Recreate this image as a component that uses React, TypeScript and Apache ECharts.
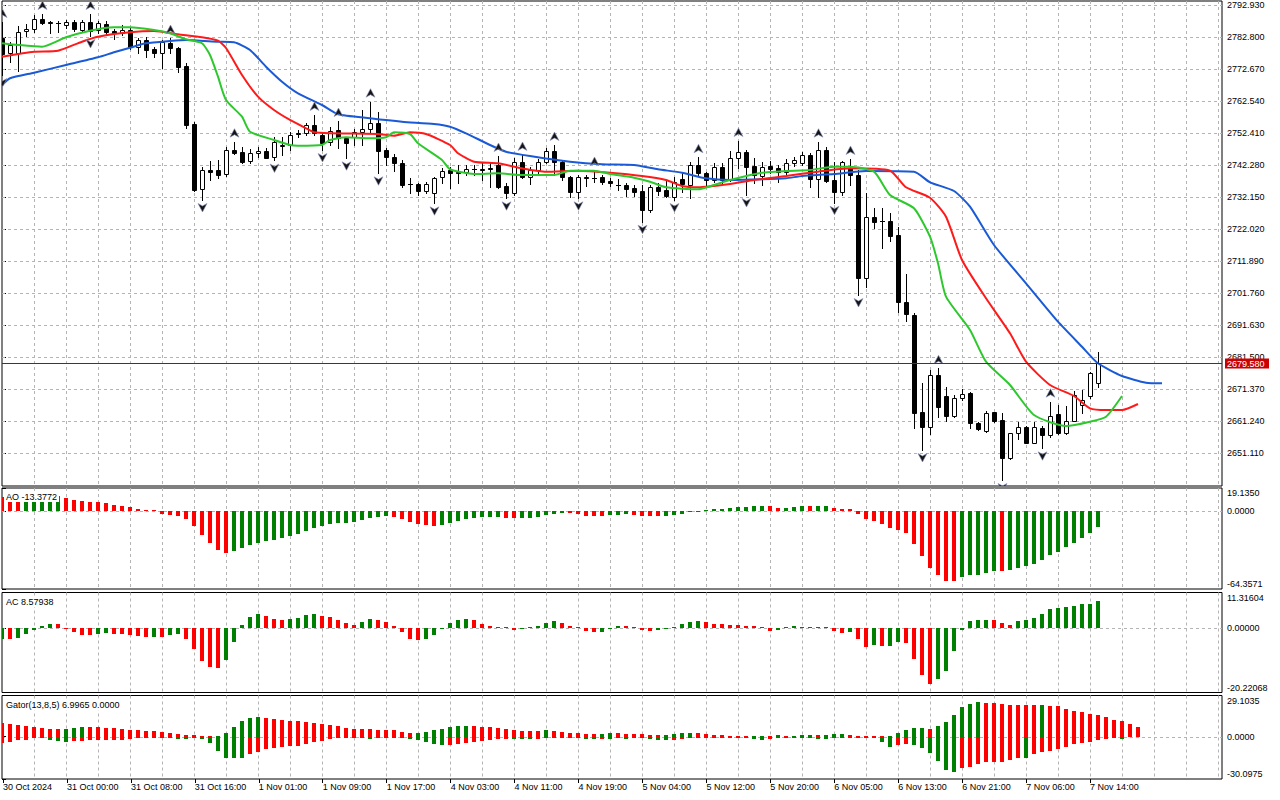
import React, { useEffect, useRef } from "react";
import * as echarts from "echarts";

// ---------- data ----------
const timeLabels = [
  "30 Oct 2024", "31 Oct 00:00", "31 Oct 08:00", "31 Oct 16:00", "1 Nov 01:00", "1 Nov 09:00",
  "1 Nov 17:00", "4 Nov 03:00", "4 Nov 11:00", "4 Nov 19:00", "5 Nov 04:00", "5 Nov 12:00",
  "5 Nov 20:00", "6 Nov 05:00", "6 Nov 13:00", "6 Nov 21:00", "7 Nov 06:00", "7 Nov 14:00",
];
const TIME_LABEL_STEP = 8; // one label every 8 hourly bars

const opens = [
  2782.35, 2777.60, 2777.60, 2784.66, 2785.19, 2788.36, 2787.60, 2787.28, 2786.46, 2787.60,
  2784.97, 2787.60, 2784.97, 2786.87, 2784.75, 2784.12, 2784.97, 2779.69, 2781.81, 2778.96,
  2777.79, 2780.96, 2779.18, 2773.68, 2755.24, 2734.59, 2740.70, 2740.70, 2739.43, 2747.02,
  2746.29, 2743.54, 2745.98, 2746.80, 2744.71, 2748.38, 2748.60, 2752.30, 2752.30, 2754.93,
  2751.76, 2749.65, 2753.35, 2750.72, 2751.04, 2752.81, 2753.57, 2755.47, 2747.02, 2744.90,
  2743.01, 2736.27, 2736.17, 2734.05, 2733.33, 2738.39, 2740.70, 2739.97, 2739.97, 2740.92,
  2741.01, 2741.23, 2742.28, 2735.64, 2733.33, 2743.32, 2738.58, 2740.70, 2743.32, 2746.80,
  2743.32, 2738.58, 2733.83, 2738.39, 2738.17, 2738.39, 2737.31, 2736.05, 2735.95, 2735.10,
  2734.15, 2728.05, 2735.23, 2734.37, 2732.25, 2737.75, 2735.95, 2742.28, 2739.65, 2737.53,
  2741.55, 2737.75, 2744.40, 2746.29, 2741.96, 2738.80, 2741.96, 2741.23, 2740.16, 2742.81,
  2743.01, 2745.44, 2737.75, 2747.02, 2737.53, 2733.83, 2741.23, 2739.11, 2706.63, 2725.74,
  2724.57, 2724.57, 2720.14, 2698.85, 2694.84, 2664.26, 2659.51, 2675.86, 2669.22, 2662.90,
  2668.49, 2670.07, 2660.59, 2658.15, 2664.07, 2661.63, 2649.52, 2657.42, 2659.32, 2654.45,
  2659.01, 2656.89, 2663.43, 2657.42, 2661.41, 2666.37, 2669.22, 2673.43,
];
const highs = [
  2787.50, 2781.27, 2786.24, 2786.87, 2789.72, 2790.03, 2787.91, 2787.91, 2788.13, 2788.13,
  2788.13, 2790.03, 2787.91, 2787.91, 2785.19, 2786.46, 2785.51, 2782.35, 2782.66, 2779.69,
  2781.81, 2782.44, 2779.69, 2774.44, 2755.88, 2741.74, 2743.64, 2743.86, 2748.07, 2749.65,
  2748.07, 2747.24, 2748.07, 2747.56, 2751.23, 2751.13, 2752.71, 2753.35, 2755.65, 2758.09,
  2752.49, 2754.39, 2756.19, 2751.23, 2753.57, 2759.67, 2762.30, 2759.13, 2747.56, 2745.76,
  2743.86, 2738.07, 2736.68, 2737.00, 2738.58, 2741.23, 2741.55, 2742.28, 2742.28, 2742.28,
  2742.81, 2742.81, 2745.12, 2736.49, 2744.49, 2745.44, 2741.55, 2744.08, 2747.65, 2748.60,
  2743.86, 2738.80, 2739.11, 2739.11, 2740.70, 2739.11, 2738.17, 2737.75, 2736.49, 2735.95,
  2735.95, 2735.95, 2736.68, 2737.53, 2738.58, 2740.16, 2743.32, 2744.71, 2740.16, 2743.01,
  2742.81, 2746.80, 2749.87, 2747.02, 2744.40, 2743.32, 2743.64, 2742.28, 2744.08, 2744.71,
  2746.48, 2745.98, 2749.65, 2748.07, 2743.32, 2743.54, 2744.18, 2740.70, 2733.52, 2728.58,
  2728.58, 2727.00, 2722.57, 2707.81, 2695.47, 2673.43, 2677.44, 2677.98, 2672.16, 2669.54,
  2671.34, 2670.58, 2661.09, 2664.57, 2664.26, 2663.75, 2657.61, 2661.09, 2659.73, 2661.09,
  2659.73, 2667.42, 2666.37, 2666.06, 2670.90, 2671.12, 2676.91, 2683.23,
];
const lows = [
  2770.74, 2774.95, 2772.01, 2783.07, 2784.43, 2786.87, 2783.93, 2784.43, 2785.51, 2784.75,
  2784.43, 2783.07, 2784.12, 2783.52, 2782.03, 2783.39, 2778.96, 2777.79, 2776.53, 2776.53,
  2772.86, 2777.60, 2771.78, 2753.88, 2734.05, 2731.21, 2737.53, 2738.07, 2738.80, 2745.76,
  2742.81, 2742.81, 2744.90, 2744.40, 2743.70, 2745.44, 2747.02, 2751.13, 2751.76, 2751.76,
  2747.02, 2748.60, 2747.56, 2744.40, 2748.60, 2748.60, 2752.81, 2739.65, 2742.28, 2740.48,
  2735.32, 2733.33, 2732.79, 2733.33, 2730.16, 2736.68, 2734.91, 2736.49, 2739.11, 2739.11,
  2737.53, 2735.41, 2735.00, 2731.75, 2732.79, 2738.17, 2736.27, 2739.65, 2742.91, 2739.11,
  2737.53, 2732.25, 2731.75, 2735.64, 2737.00, 2736.17, 2735.64, 2734.37, 2732.47, 2732.47,
  2724.35, 2727.51, 2732.79, 2732.00, 2731.21, 2733.83, 2731.75, 2738.80, 2735.95, 2736.90,
  2736.58, 2737.22, 2741.23, 2732.79, 2736.49, 2735.95, 2739.65, 2737.00, 2739.43, 2741.96,
  2742.28, 2735.23, 2732.25, 2736.90, 2730.35, 2732.79, 2735.95, 2701.16, 2703.79, 2722.26,
  2715.93, 2718.34, 2695.88, 2693.04, 2659.01, 2652.14, 2657.20, 2662.68, 2661.41, 2662.68,
  2667.96, 2659.01, 2658.47, 2657.93, 2661.09, 2642.66, 2649.20, 2655.53, 2654.26, 2654.26,
  2652.68, 2656.16, 2657.20, 2657.20, 2661.31, 2663.84, 2668.49, 2672.16,
];
const closes = [
  2777.29, 2780.23, 2784.43, 2785.29, 2788.36, 2787.28, 2787.09, 2787.19, 2787.50, 2785.19,
  2787.60, 2784.75, 2787.09, 2784.24, 2784.12, 2784.97, 2779.50, 2781.81, 2778.65, 2777.79,
  2781.08, 2779.18, 2773.37, 2754.93, 2734.37, 2740.70, 2740.16, 2739.11, 2747.02, 2746.17,
  2743.32, 2746.17, 2746.80, 2744.59, 2749.65, 2748.70, 2751.76, 2752.08, 2754.93, 2752.30,
  2749.14, 2753.12, 2750.72, 2749.33, 2752.81, 2753.66, 2755.47, 2746.80, 2744.90, 2743.01,
  2735.95, 2736.11, 2734.05, 2736.27, 2738.07, 2740.48, 2739.65, 2739.84, 2741.01, 2741.01,
  2740.79, 2741.11, 2735.41, 2733.33, 2743.32, 2738.58, 2740.70, 2743.32, 2746.80, 2743.32,
  2738.58, 2733.83, 2738.39, 2738.26, 2738.07, 2737.00, 2736.49, 2735.86, 2734.59, 2733.83,
  2728.05, 2735.23, 2734.15, 2732.32, 2737.00, 2736.27, 2742.28, 2739.65, 2737.53, 2741.55,
  2737.53, 2744.40, 2746.29, 2741.74, 2739.11, 2741.74, 2741.01, 2740.16, 2742.81, 2743.86,
  2745.44, 2737.75, 2747.02, 2737.31, 2733.83, 2743.07, 2739.11, 2706.63, 2725.74, 2724.35,
  2724.47, 2719.82, 2699.05, 2695.06, 2663.75, 2659.51, 2675.86, 2665.84, 2662.90, 2668.49,
  2669.76, 2660.59, 2658.69, 2663.94, 2661.41, 2649.52, 2657.42, 2659.32, 2654.45, 2659.32,
  2656.89, 2662.99, 2657.42, 2661.41, 2669.54, 2667.96, 2676.59, 2679.58,
];

const fractalUpIdx = [0, 5, 11, 21, 29, 39, 42, 46, 62, 65, 69, 74, 87, 92, 102, 106, 117, 131];
const fractalDownIdx = [0, 11, 25, 34, 40, 43, 47, 54, 63, 72, 80, 84, 93, 104, 107, 115, 125, 130];

// Alligator lines: [bar index, price]
const jaw = [
  [0, 2767.58], [1, 2769.7], [4, 2771.47], [8, 2773.90], [12, 2776.34], [14, 2777.92], [16, 2779.37],
  [18, 2780.77], [21, 2781.49], [23, 2781.81], [27, 2781.27], [29, 2781.08], [31, 2778.65], [33, 2773.37],
  [35, 2768.62], [37, 2764.95], [40, 2761.25], [42, 2758.31], [46, 2757.05], [50, 2755.97], [54, 2755.24],
  [56, 2754.39], [58, 2752.30], [61, 2748.60], [63, 2746.48], [66, 2745.12], [71, 2743.32], [75, 2742.50],
  [79, 2742.28], [82, 2740.92], [85, 2739.84], [88, 2738.07], [91, 2737.53], [95, 2737.75], [98, 2738.07],
  [100, 2738.80], [104, 2739.43], [108, 2740.38], [114, 2740.16], [116, 2736.81], [119, 2734.05],
  [121, 2729.09], [124, 2716.98], [128, 2704.86], [132, 2692.72], [135, 2684.81], [137, 2679.56],
  [140, 2675.55], [143, 2673.43], [145, 2673.24],
];
const teeth = [
  [0, 2776.53], [4, 2778.11], [7, 2778.43], [10, 2781.27], [12, 2782.85], [16, 2784.24], [19, 2784.66],
  [22, 2783.61], [25, 2782.66], [27, 2781.59], [28, 2779.28], [30, 2770.74], [32, 2763.88], [34, 2759.67],
  [36, 2756.51], [38, 2753.88], [39, 2752.62], [41, 2752.30], [47, 2752.08], [49, 2751.54], [51, 2752.62],
  [53, 2752.08], [56, 2748.60], [57, 2745.98], [59, 2743.32], [62, 2742.81], [65, 2741.23], [68, 2740.16],
  [72, 2740.48], [76, 2739.84], [80, 2738.80], [83, 2737.53], [85, 2735.64], [87, 2735.23], [91, 2736.27],
  [94, 2737.53], [98, 2738.80], [102, 2740.16], [106, 2741.23], [111, 2740.48], [113, 2735.23],
  [116, 2731.94], [118, 2725.93], [120, 2712.23], [123, 2700.12], [126, 2689.05], [128, 2680.07],
  [131, 2672.70], [134, 2669.22], [136, 2665.33], [138, 2664.79], [140, 2664.79], [142, 2666.69],
];
const lips = [
  [0, 2780.77], [2, 2780.23], [5, 2779.69], [8, 2782.66], [11, 2784.75], [14, 2785.83], [16, 2785.83],
  [19, 2784.97], [21, 2783.93], [23, 2782.03], [25, 2780.77], [26, 2777.07], [27, 2770.20], [28, 2762.83],
  [30, 2757.55], [31, 2752.81], [34, 2750.18], [36, 2748.60], [37, 2748.38], [40, 2748.60], [41, 2750.18],
  [43, 2751.04], [46, 2750.72], [48, 2751.04], [49, 2752.62], [51, 2752.08], [52, 2749.14], [55, 2743.86],
  [56, 2740.92], [59, 2739.43], [62, 2739.65], [65, 2739.11], [69, 2739.11], [71, 2740.48], [74, 2740.48],
  [76, 2739.43], [79, 2738.26], [81, 2737.00], [83, 2735.23], [87, 2734.59], [89, 2735.95], [91, 2737.53],
  [95, 2739.84], [98, 2740.38], [101, 2740.70], [104, 2741.74], [106, 2741.74], [109, 2740.16],
  [111, 2732.79], [114, 2728.58], [116, 2719.60], [117, 2711.19], [118, 2700.63], [121, 2690.09],
  [123, 2680.07], [126, 2672.70], [129, 2663.21], [133, 2659.73], [136, 2661.09], [138, 2662.68],
  [140, 2669.22],
];

const priceTicks = [
  2651.11, 2661.24, 2671.37, 2681.50, 2691.63, 2701.76, 2711.89, 2722.02,
  2732.15, 2742.28, 2752.41, 2762.54, 2772.67, 2782.80, 2792.93,
];
const bidPrice = 2679.58;

// indicator values; element k belongs to bar (k - 1): the first one is the unseen bar before the window
const IND_START = -1;
const aoValues = [
  13.0,
  12.1, 10.5, 9.8, 10.3, 10.8, 11.3, 11.8, 12.3, 10.7, 9.6,
  8.0, 7.4, 7.3, 6.6, 5.2, 4.1, 3.3, 1.65, 0.55, 0.1,
  -2.2, -3.0, -4.1, -6.3, -12.4, -19.6, -26.2, -32.0, -34.4, -33.3,
  -30.6, -28.1, -26.2, -24.5, -23.7, -22.0, -20.4, -18.7, -16.3, -14.0,
  -12.4, -10.5, -9.7, -9.5, -8.8, -7.2, -5.8, -4.7, -3.9, -5.0,
  -6.6, -8.8, -10.5, -11.3, -12.1, -11.3, -9.6, -8.0, -6.3, -5.5,
  -5.0, -4.7, -4.6, -5.5, -5.6, -5.4, -5.3, -4.7, -3.0, -2.2,
  -1.4, -1.6, -2.6, -3.9, -4.0, -4.1, -3.3, -2.8, -2.2, -3.0,
  -3.9, -4.1, -4.2, -4.0, -3.4, -2.2, -1.1, -0.3, 0.8, 1.4,
  1.9, 2.5, 3.3, 3.4, 4.1, 4.2, 4.1, 2.5, 2.8, 3.3,
  4.1, 4.0, 4.15, 4.25, 2.5, 1.7, 1.6, -2.2, -6.6, -8.3,
  -10.7, -13.8, -15.7, -17.9, -27.3, -37.2, -47.1, -52.9, -57.9, -58.0,
  -54.5, -52.9, -52.8, -51.5, -49.6, -49.7, -48.8, -46.8, -45.5, -43.8,
  -40.2, -36.4, -33.9, -29.8, -26.2, -22.0, -17.9, -13.3772,
];
const acValues = [
  -3.5,
  -3.3, -3.4, -3.0, -1.7, -0.4, 0.8, 1.35, 1.25, -0.2, -1.1,
  -2.0, -2.05, -1.7, -1.4, -1.7, -1.75, -2.1, -2.4, -2.7, -2.6,
  -2.8, -2.0, -1.7, -3.4, -6.5, -10.2, -12.1, -12.4, -9.9, -4.2,
  1.1, 3.5, 4.5, 3.9, 2.9, 2.6, 2.95, 3.2, 4.3, 4.5,
  3.9, 3.5, 2.6, 1.6, 1.0, 1.95, 2.9, 2.6, 1.95, 0.7,
  -1.1, -3.4, -3.7, -3.4, -2.0, -0.1, 1.7, 2.6, 2.9, 2.6,
  1.3, 0.8, 0.4, 0.15, -0.45, -0.1, 0.05, 0.65, 1.6, 2.3,
  1.6, 0.65, 0.2, -0.9, -1.2, -1.1, -0.1, 0.7, 0.6, 0.3,
  -0.5, -0.8, -0.5, -0.1, 0.1, 1.3, 2.0, 2.3, 2.0, 1.3,
  1.25, 1.2, 1.15, 0.9, 0.6, 0.4, -0.9, -0.4, 0.05, 0.6,
  0.55, 0.5, 0.45, 0.35, -0.8, -1.3, -1.25, -3.5, -5.8, -5.2,
  -5.5, -5.45, -4.2, -4.5, -9.6, -14.7, -17.5, -16.1, -13.4, -7.1,
  -0.4, 2.3, 2.6, 2.65, 2.6, 1.65, 1.2, 2.3, 2.6, 3.2,
  4.6, 6.1, 6.4, 6.7, 7.0, 7.6, 7.65, 8.57938,
];
const gatorUpper = [
  10.0,
  9.4, 8.7, 8.0, 7.5, 6.6, 6.1, 5.4, 5.35, 5.6, 6.1,
  7.0, 6.95, 6.6, 6.1, 5.9, 5.2, 4.9, 4.7, 4.2, 3.8,
  3.05, 2.6, 1.9, 1.4, 0.9, 0.3, 0.1, 0.5, 2.3, 6.6,
  10.8, 13.2, 13.9, 13.15, 12.45, 11.7, 10.9, 10.85, 10.1, 9.4,
  8.7, 8.0, 7.3, 6.1, 5.2, 5.15, 5.1, 4.5, 4.45, 4.4,
  3.5, 2.3, 2.35, 3.05, 4.45, 5.2, 6.6, 7.3, 7.35, 7.25,
  6.6, 6.55, 5.9, 5.2, 4.5, 3.8, 3.75, 3.7, 4.45, 3.8,
  3.3, 2.8, 2.35, 2.1, 1.9, 2.1, 2.8, 2.4, 2.1, 1.9,
  1.6, 1.4, 1.2, 1.4, 2.1, 2.6, 2.8, 2.35, 1.9, 1.4,
  1.2, 0.7, 0.5, 0.3, 0.5, 0.7, 0.5, 0.75, 0.6, 0.7,
  0.95, 1.2, 1.0, 1.4, 1.9, 2.1, 0.9, 0.7, 0.5, 0.2,
  0.05, 0.6, 2.3, 4.5, 5.9, 5.95, 5.6, 7.5, 10.1, 15.0,
  20.9, 23.2, 24.2, 23.7, 23.5, 22.8, 22.55, 22.5, 22.3, 22.1,
  22.2, 21.85, 21.4, 19.7, 18.3, 17.6, 16.2, 15.0, 13.6, 12.0,
  10.8, 9.2, 6.9965,
];
const gatorLower = [
  -5.2,
  -4.7, -4.0, -2.8, -2.1, -1.0, -0.7, -2.35, -3.3, -4.0, -3.05,
  -3.0, -2.8, -2.75, -2.7, -2.6, -2.35, -1.9, -1.2, -0.5, -0.1,
  -0.7, -1.2, -1.9, -1.95, -0.9, -1.6, -4.5, -9.9, -15.0, -15.2,
  -15.3, -12.2, -11.0, -8.7, -8.0, -7.5, -7.0, -6.6, -5.2, -4.0,
  -3.3, -1.6, -0.9, -1.0, -1.05, -0.95, -1.6, -0.9, -1.0, -0.3,
  -0.2, -1.6, -2.35, -4.0, -5.4, -6.1, -6.05, -5.2, -4.7, -4.0,
  -3.3, -2.6, -1.6, -1.55, -1.65, -1.7, -1.75, -1.7, -0.9, -0.85,
  -0.7, -0.9, -1.2, -1.4, -1.6, -1.4, -1.9, -1.2, -1.4, -0.9,
  -1.2, -1.6, -2.1, -2.6, -2.1, -1.4, -0.9, -0.7, -0.95, -1.2,
  -0.9, -0.7, -0.9, -1.2, -1.6, -2.35, -1.4, -0.9, -1.2, -0.7,
  -0.95, -1.2, -1.4, -1.9, -0.9, -0.5, -0.7, -0.5, -1.2, -0.4,
  -3.8, -7.3, -6.1, -5.2, -5.9, -8.0, -11.5, -17.4, -23.7, -24.9,
  -22.1, -21.4, -19.7, -18.3, -17.9, -17.85, -16.7, -14.9, -15.1, -12.7,
  -10.8, -10.1, -8.5, -7.1, -5.6, -4.9, -3.8, -2.6, -1.9, -0.7,
  -1.4,
];

const aoRange = [-64.3571, 19.135];
const acRange = [-20.22068, 11.31604];
const gatorRange = [-30.0975, 29.1035];
const priceRange = [2640.76, 2794.14];
const barRange = [0, 152.5];

// ---------- style ----------
const FONT = "'Liberation Sans', Arial, sans-serif";
const GRID_COLOR = "#b4b4b4";
const GREEN = "#008000";
const RED = "#ff0000";
const LEFT = 2;
const WIDTH = 1220;

function xGridAxis(gi: number) {
  return {
    type: "value",
    gridIndex: gi,
    min: barRange[0],
    max: barRange[1],
    interval: 4,
    axisLine: { show: false },
    axisTick: { show: false },
    axisLabel: { show: false },
    splitLine: {
      show: true,
      showMinLine: false,
      showMaxLine: false,
      lineStyle: { color: GRID_COLOR, type: [3, 3], width: 1 },
    },
  };
}

function subYAxis(gi: number, range: number[], digits: number) {
  const [mn, mx] = range;
  const vals = [mn, 0, mx];
  const base = { fontSize: 9, fontFamily: FONT, color: "#000" };
  return {
    type: "value",
    gridIndex: gi,
    position: "right",
    min: mn,
    max: mx,
    axisLine: { show: false },
    splitLine: { show: false },
    axisTick: { show: true, length: 4, customValues: vals, lineStyle: { color: "#000" } },
    axisLabel: {
      show: true,
      customValues: vals,
      margin: 5,
      ...base,
      formatter: (v: number) => {
        const t = v.toFixed(digits);
        if (Math.abs(v - mx) < 1e-9) return `{t|${t}}`;
        if (Math.abs(v - mn) < 1e-9) return `{b|${t}}`;
        return t;
      },
      rich: {
        t: { ...base, padding: [10, 0, 0, 0] },
        b: { ...base, padding: [0, 0, 10, 0] },
      },
    },
  };
}

function zeroLineSeries(gi: number) {
  return {
    type: "custom",
    xAxisIndex: gi,
    yAxisIndex: gi,
    z: 1,
    silent: true,
    clip: false,
    encode: { x: 0, y: 1 },
    data: [[barRange[0], 0]],
    renderItem: (params: any, api: any) => {
      const cs = params.coordSys;
      const y = Math.round(api.coord([barRange[0], 0])[1]) + 0.5;
      return {
        type: "line",
        shape: { x1: cs.x, y1: y, x2: cs.x + cs.width, y2: y },
        style: { stroke: GRID_COLOR, lineWidth: 1, lineDash: [3, 3] },
      };
    },
  };
}

function histSeries(gi: number, values: number[], useAbs: boolean) {
  const data = values.slice(1).map((v, k) => [IND_START + 1 + k, v]);
  return {
    type: "custom",
    xAxisIndex: gi,
    yAxisIndex: gi,
    z: 2,
    silent: true,
    clip: true,
    encode: { x: 0, y: 1 },
    data,
    renderItem: (params: any, api: any) => {
      const k = params.dataIndex + 1;
      const v = values[k];
      const prev = values[k - 1];
      const rising = useAbs ? Math.abs(v) > Math.abs(prev) : v > prev;
      const idx = api.value(0);
      const p0 = api.coord([idx, 0]);
      const p1 = api.coord([idx, v]);
      const y0 = Math.round(p0[1]);
      const y1 = Math.round(p1[1]);
      let top = Math.min(y0, y1);
      let h = Math.abs(y1 - y0);
      if (h < 1 && v !== 0) {
        h = 1;
        if (v > 0) top = y0 - 1;
      }
      return {
        type: "rect",
        shape: { x: Math.floor(p0[0]) - 2, y: top, width: 4, height: h },
        style: { fill: rising ? GREEN : RED },
      };
    },
  };
}

function buildOption() {
  const candleData = opens.map((o, i) => [i, o, closes[i], lows[i], highs[i]]);
  const fractalData = [
    ...fractalUpIdx.map((i) => [i, highs[i], 1]),
    ...fractalDownIdx.map((i) => [i, lows[i], -1]),
  ];
  const labelIdx = timeLabels.map((_, k) => k * TIME_LABEL_STEP);
  const aoLast = aoValues[aoValues.length - 1];
  const acLast = acValues[acValues.length - 1];
  const gUpLast = gatorUpper[gatorUpper.length - 1];

  const grids = [
    { top: 1, height: 485 },
    { top: 488, height: 101 },
    { top: 592.5, height: 100 },
    { top: 695.5, height: 83.5 },
  ].map((g) => ({
    ...g,
    left: LEFT,
    width: WIDTH,
    show: true,
    borderColor: "#000",
    borderWidth: 1,
    backgroundColor: "#fff",
  }));
  grids.push({ top: 778, height: 1, left: LEFT, width: WIDTH, show: false } as any);

  const lineCommon = {
    type: "line",
    xAxisIndex: 0,
    yAxisIndex: 0,
    showSymbol: false,
    symbol: "none",
    smooth: 0.2,
    silent: true,
    z: 3,
    clip: true,
  };

  return {
    animation: false,
    backgroundColor: "#fff",
    textStyle: { fontFamily: FONT },
    grid: grids,
    xAxis: [
      xGridAxis(0),
      xGridAxis(1),
      xGridAxis(2),
      xGridAxis(3),
      {
        type: "value",
        gridIndex: 4,
        position: "bottom",
        min: barRange[0],
        max: barRange[1],
        axisLine: { show: false },
        splitLine: { show: false },
        axisTick: { show: true, length: 4, customValues: labelIdx, lineStyle: { color: "#000" } },
        axisLabel: {
          show: true,
          customValues: labelIdx,
          align: "left",
          margin: 3,
          fontSize: 9,
          fontFamily: FONT,
          color: "#000",
          formatter: (v: number) => timeLabels[Math.round(v / TIME_LABEL_STEP)] ?? "",
        },
      },
    ],
    yAxis: [
      {
        type: "value",
        gridIndex: 0,
        position: "right",
        min: priceRange[0],
        max: priceRange[1],
        axisLine: { show: false },
        splitLine: { show: false },
        axisTick: { show: true, length: 4, customValues: priceTicks, lineStyle: { color: "#000" } },
        axisLabel: {
          show: true,
          customValues: priceTicks,
          margin: 5,
          fontSize: 9,
          fontFamily: FONT,
          color: "#000",
          formatter: (v: number) => v.toFixed(3),
        },
      },
      subYAxis(1, aoRange, 4),
      subYAxis(2, acRange, 5),
      subYAxis(3, gatorRange, 4),
      { type: "value", gridIndex: 4, show: false, min: 0, max: 1 },
    ],
    graphic: [
      {
        type: "text",
        x: 4,
        y: 496.5,
        z: 100,
        silent: true,
        style: {
          text: `AO ${aoLast.toFixed(4)}`,
          font: `9px ${FONT}`,
          fill: "#000",
          verticalAlign: "middle",
          backgroundColor: "#fff",
          padding: [1, 2, 1, 2],
        },
      },
      {
        type: "text",
        x: 4,
        y: 601.5,
        z: 100,
        silent: true,
        style: {
          text: `AC ${acLast.toFixed(5)}`,
          font: `9px ${FONT}`,
          fill: "#000",
          verticalAlign: "middle",
          backgroundColor: "#fff",
          padding: [1, 2, 1, 2],
        },
      },
      {
        type: "text",
        x: 4,
        y: 705,
        z: 100,
        silent: true,
        style: {
          text: `Gator(13,8,5) ${gUpLast.toFixed(4)} ${(0).toFixed(4)}`,
          font: `9px ${FONT}`,
          fill: "#000",
          verticalAlign: "middle",
          backgroundColor: "#fff",
          padding: [1, 2, 1, 2],
        },
      },
    ],
    series: [
      // horizontal price grid lines
      {
        type: "custom",
        xAxisIndex: 0,
        yAxisIndex: 0,
        z: 1,
        silent: true,
        clip: false,
        encode: { x: 0, y: 1 },
        data: priceTicks.map((v) => [barRange[0], v]),
        renderItem: (params: any, api: any) => {
          const cs = params.coordSys;
          const y = Math.round(api.coord([barRange[0], api.value(1)])[1]) + 0.5;
          return {
            type: "line",
            shape: { x1: cs.x, y1: y, x2: cs.x + cs.width, y2: y },
            style: { stroke: GRID_COLOR, lineWidth: 1, lineDash: [3, 3] },
          };
        },
      },
      // candles
      {
        type: "custom",
        xAxisIndex: 0,
        yAxisIndex: 0,
        z: 2,
        silent: true,
        clip: true,
        encode: { x: 0, y: [1, 2, 3, 4] },
        data: candleData,
        renderItem: (params: any, api: any) => {
          const i = api.value(0);
          const o = api.value(1);
          const c = api.value(2);
          const l = api.value(3);
          const h = api.value(4);
          const pO = api.coord([i, o]);
          const pC = api.coord([i, c]);
          const pH = api.coord([i, h]);
          const pL = api.coord([i, l]);
          const cx = Math.floor(pO[0]) + 0.5;
          const yH = Math.round(pH[1]);
          const yL = Math.round(pL[1]);
          const yT = Math.round(Math.min(pO[1], pC[1]));
          const yB = Math.round(Math.max(pO[1], pC[1]));
          const children: any[] = [
            { type: "line", shape: { x1: cx, y1: yH, x2: cx, y2: yL + 1 }, style: { stroke: "#000", lineWidth: 1 } },
          ];
          if (yB - yT < 1) {
            children.push({
              type: "line",
              shape: { x1: cx - 2.5, y1: yT + 0.5, x2: cx + 2.5, y2: yT + 0.5 },
              style: { stroke: "#000", lineWidth: 1 },
            });
          } else {
            children.push({
              type: "rect",
              shape: { x: cx - 2, y: yT + 0.5, width: 4, height: yB - yT },
              style: { fill: c >= o ? "#fff" : "#000", stroke: "#000", lineWidth: 1 },
            });
          }
          return { type: "group", children };
        },
      },
      { ...lineCommon, name: "Jaw", data: jaw, lineStyle: { color: "#1a5ad6", width: 2 } },
      { ...lineCommon, name: "Teeth", data: teeth, lineStyle: { color: "#ff1a1a", width: 2 } },
      { ...lineCommon, name: "Lips", data: lips, lineStyle: { color: "#2ec82e", width: 2 } },
      // fractals
      {
        type: "custom",
        xAxisIndex: 0,
        yAxisIndex: 0,
        z: 4,
        silent: true,
        clip: true,
        encode: { x: 0, y: 1 },
        data: fractalData,
        renderItem: (params: any, api: any) => {
          const p = api.coord([api.value(0), api.value(1)]);
          const dir = api.value(2);
          const x = Math.floor(p[0]) + 0.5;
          const y = p[1];
          const pts =
            dir > 0
              ? [[x, y - 13], [x + 4.5, y - 4.5], [x, y - 7], [x - 4.5, y - 4.5]]
              : [[x, y + 12], [x + 4.5, y + 3.5], [x, y + 6], [x - 4.5, y + 3.5]];
          return {
            type: "polygon",
            shape: { points: pts },
            style: { fill: "#151515", stroke: "#8a94c0", lineWidth: 0.6 },
          };
        },
      },
      // bid line + price tag
      {
        type: "custom",
        xAxisIndex: 0,
        yAxisIndex: 0,
        z: 10,
        silent: true,
        clip: false,
        encode: { x: 0, y: 1 },
        data: [[barRange[0], bidPrice]],
        renderItem: (params: any, api: any) => {
          const cs = params.coordSys;
          const y = Math.round(api.coord([barRange[0], bidPrice])[1]) + 0.5;
          const lx = cs.x + cs.width + 3;
          return {
            type: "group",
            children: [
              { type: "line", shape: { x1: cs.x, y1: y, x2: cs.x + cs.width, y2: y }, style: { stroke: "#c00000", lineWidth: 1 } },
              { type: "rect", shape: { x: lx, y: y - 5, width: 44, height: 10 }, style: { fill: "#cc0000" } },
              {
                type: "text",
                x: lx + 2,
                y: y,
                style: { text: bidPrice.toFixed(3), fill: "#fff", font: `9px ${FONT}`, align: "left", verticalAlign: "middle" },
              },
            ],
          };
        },
      },
      zeroLineSeries(1),
      histSeries(1, aoValues, false),
      zeroLineSeries(2),
      histSeries(2, acValues, false),
      zeroLineSeries(3),
      histSeries(3, gatorUpper, true),
      histSeries(3, gatorLower, true),
    ],
  };
}

export default function App() {
  const ref = useRef<HTMLDivElement>(null);
  useEffect(() => {
    if (!ref.current) return;
    const chart = echarts.init(ref.current, null, { renderer: "svg" });
    chart.setOption(buildOption() as any);
    return () => chart.dispose();
  }, []);
  return (
    <div
      ref={ref}
      style={{ position: "fixed", left: 0, top: 0, width: 1280, height: 800, background: "#fff" }}
    />
  );
}
